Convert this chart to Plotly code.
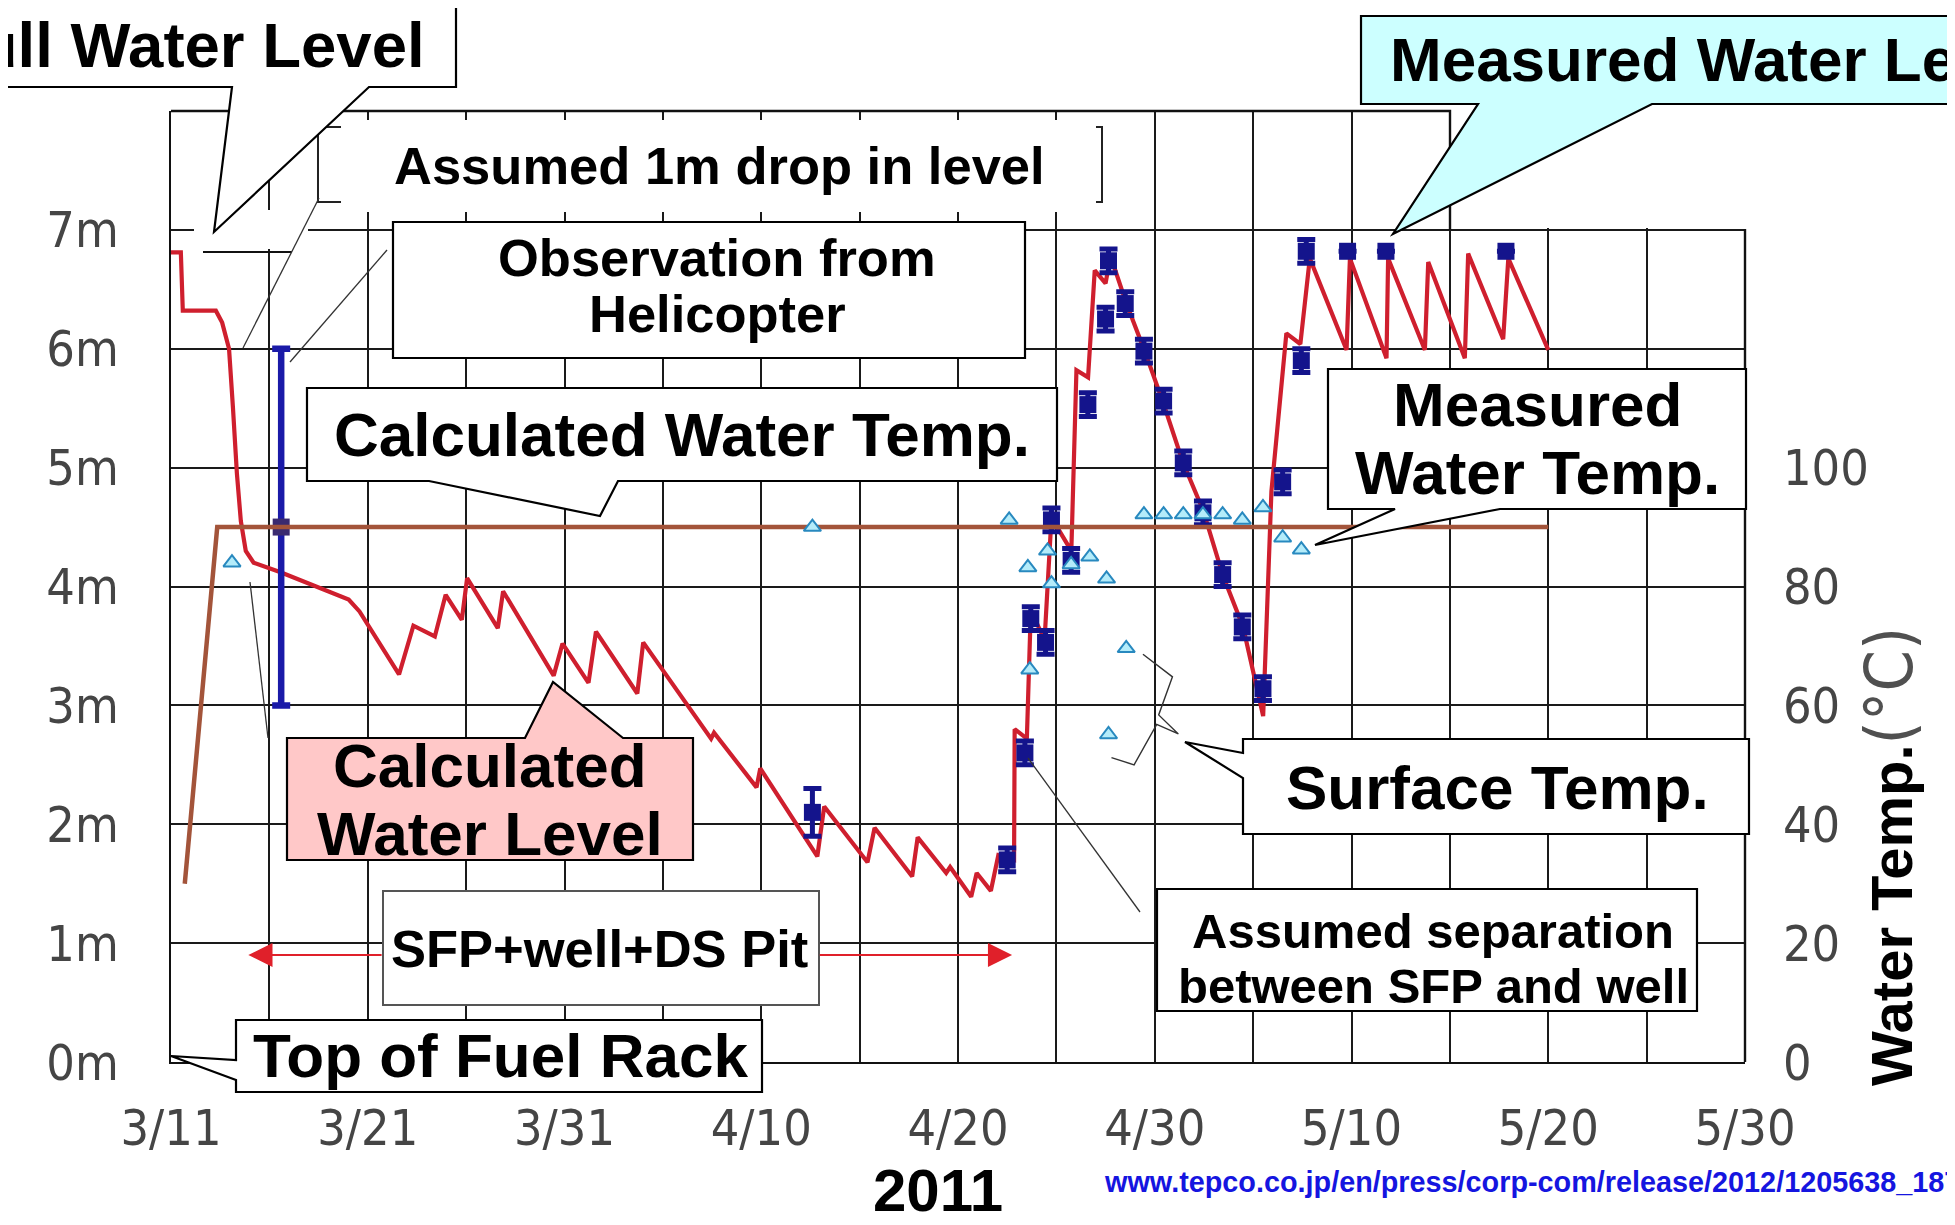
import plotly.graph_objects as go

# ------------------------------------------------------------------ data
# x values are days after 2011-03-11
tick_days = list(range(0, 81, 5))
x_tick_labels = ["3/11", "3/21", "3/31", "4/10", "4/20", "4/30", "5/10", "5/20", "5/30"]
level_tick_values = [0, 1, 2, 3, 4, 5, 6, 7]
level_tick_labels = ["0m", "1m", "2m", "3m", "4m", "5m", "6m", "7m"]
temp_tick_values = [0, 20, 40, 60, 80, 100]

calc_level_day = [0.0, 0.5, 0.6, 2.28, 2.6, 2.95, 3.15, 3.35, 3.55, 3.8, 4.2, 5.57, 9.03, 9.58,
                  11.59, 12.32, 13.41, 13.96, 14.78, 15.05, 16.61, 16.88, 19.45, 19.9, 21.22, 21.6,
                  23.7, 24.0, 27.45, 27.6, 29.76, 29.95, 32.85, 33.2, 35.4, 35.76, 37.67, 37.95,
                  39.4, 39.6, 40.67, 40.95, 41.67, 42.05, 42.85, 42.88, 43.5, 43.7, 44.4, 44.75,
                  45.76, 46.02, 46.61, 46.95, 47.5, 47.75, 48.56, 49.49, 50.42, 51.44, 52.46,
                  53.47, 54.49, 55.51, 55.93, 56.69, 57.4, 57.88, 59.75, 59.92, 61.78, 61.86,
                  63.73, 63.9, 65.76, 65.93, 67.71, 67.97, 70.0]
calc_level_m = [6.81, 6.81, 6.32, 6.32, 6.22, 6.0, 5.5, 4.95, 4.55, 4.3, 4.2, 4.12, 3.89, 3.79,
                3.26, 3.67, 3.58, 3.93, 3.72, 4.07, 3.65, 3.96, 3.25, 3.52, 3.19, 3.62,
                3.1, 3.53, 2.72, 2.77, 2.31, 2.47, 1.73, 2.15, 1.68, 1.97, 1.56, 1.89,
                1.59, 1.64, 1.39, 1.59, 1.44, 1.74, 1.7, 2.8, 2.72, 3.8, 3.55, 4.58,
                4.3, 5.82, 5.76, 6.66, 6.55, 6.78, 6.38, 5.98, 5.55, 5.04, 4.64,
                4.09, 3.66, 2.91, 4.8, 6.13, 6.04, 6.76, 5.99, 6.76, 5.92, 6.76,
                5.99, 6.73, 5.92, 6.8, 6.08, 6.76, 5.99]

calc_temp_day = [0.7, 2.35, 70.0]
calc_temp_c = [30, 90, 90]

heli_day = [5.6]
heli_m = [4.5]
heli_err = [1.5]

meas_level_day = [32.6, 42.5, 43.4, 43.7, 44.45, 44.75, 45.75, 46.6, 47.5, 47.65, 48.5, 49.45,
                  50.45, 51.45, 52.45, 53.45, 54.45, 55.5, 56.5, 57.45, 57.7, 59.8, 61.75, 67.85]
meas_level_m = [2.1, 1.7, 2.6, 3.73, 3.53, 4.56, 4.22, 5.53, 6.25, 6.74, 6.38, 5.98,
                5.56, 5.04, 4.62, 4.1, 3.66, 3.14, 4.88, 5.9, 6.82, 6.82, 6.82, 6.82]
meas_level_err = [0.2, 0.1, 0.1, 0.1, 0.1, 0.1, 0.1, 0.1, 0.1, 0.1, 0.1, 0.1,
                  0.1, 0.1, 0.1, 0.1, 0.1, 0.1, 0.1, 0.1, 0.1, 0.0, 0.0, 0.0]

meas_temp_day = [3.1, 32.6, 42.6, 43.55, 43.65, 44.55, 44.75, 45.75, 46.7, 47.55, 48.55, 47.65,
                 49.45, 50.45, 51.45, 52.45, 53.45, 54.45, 55.5, 56.5, 57.45]
meas_temp_c = [84, 90, 91.2, 83.2, 66, 86, 80.5, 83.7, 85, 81.3, 69.6, 55.1,
               92.1, 92.1, 92.1, 92.1, 92.1, 91.2, 93.3, 88.2, 86.2]

# ------------------------------------------------------------------ layout helpers
PAGE_W, PAGE_H = 1955, 1225
OFF = 8                     # default body margin of the page
W, H = PAGE_W - OFF, PAGE_H - OFF
# plot area in page pixels
L_PX, R_PX, T_PX, B_PX = 171, 1745, 111, 1062


def px(x):
    return (x - L_PX) / (R_PX - L_PX)


def py(y):
    return (B_PX - y) / (B_PX - T_PX)


def poly_path(points):
    s = "M " + " L ".join(f"{px(x):.5f},{py(y):.5f}" for x, y in points)
    return s + " Z"


def callout(x0, y0, x1, y1, side=None, b1=None, b2=None, tip=None):
    pts = [(x0, y0)]
    if side == "top":
        pts += [(b1, y0), tip, (b2, y0)]
    pts += [(x1, y0), (x1, y1)]
    if side == "bottom":
        pts += [(b2, y1), tip, (b1, y1)]
    pts += [(x0, y1)]
    if side == "left":
        pts += [(x0, b2), tip, (x0, b1)]
    return poly_path(pts)


BOLD = "Liberation Sans, Arial, sans-serif"
NARROW = "DejaVu Sans Condensed, Liberation Sans Narrow, sans-serif"

shapes = []
annotations = []


def box(path, fill="white", color="black", width=2.2):
    shapes.append(dict(type="path", path=path, xref="paper", yref="paper", layer="above",
                       fillcolor=fill, line=dict(color=color, width=width)))


def seg(pts, color="#222", width=2):
    s = "M " + " L ".join(f"{px(x):.5f},{py(y):.5f}" for x, y in pts)
    shapes.append(dict(type="path", path=s, xref="paper", yref="paper", layer="above",
                       line=dict(color=color, width=width)))


def text(t, x, y, size, xanchor="center", color="black"):
    annotations.append(dict(text=t, x=px(x), y=py(y), xref="paper", yref="paper",
                            xanchor=xanchor, yanchor="middle", showarrow=False,
                            font=dict(family=BOLD, size=size, color=color)))


# frame pieces outside standard axes
shapes.append(dict(type="rect", xref="paper", yref="paper", layer="above",
                   x0=px(1452), x1=px(1770), y0=py(90), y1=py(228),
                   fillcolor="white", line=dict(width=0)))
seg([(L_PX, T_PX), (1450, T_PX), (1450, 230)], color="#111", width=2.4)
seg([(R_PX, 229), (R_PX, B_PX)], color="#111", width=2.4)
# gap around full-water-level mark
shapes.append(dict(type="rect", xref="paper", yref="paper", layer="above",
                   x0=px(194), x1=px(308), y0=py(210), y1=py(249),
                   fillcolor="white", line=dict(width=0)))
seg([(203, 252), (292, 252)], color="#111", width=2.2)

# "Assumed 1m drop" white area and brackets
shapes.append(dict(type="rect", xref="paper", yref="paper", layer="above",
                   x0=px(341), x1=px(1100), y0=py(120), y1=py(212),
                   fillcolor="white", line=dict(width=0)))
seg([(341, 127), (318, 127), (318, 202), (341, 202)], color="#222", width=2)
seg([(1096, 127), (1102, 127), (1102, 202), (1096, 202)], color="#222", width=2)

# thin leader lines
seg([(319, 198), (243, 348)], color="#333", width=1.3)
seg([(387, 250), (290, 362)], color="#333", width=1.3)
seg([(250, 582), (268, 738)], color="#333", width=1.3)
seg([(1028, 758), (1140, 912)], color="#333", width=1.3)

# brace for the surface temperatures (data coordinates)
shapes.append(dict(type="path", xref="x", yref="y", layer="above",
                   path="M 49.4,3.43 L 50.9,3.24 L 50.2,2.92 L 51.2,2.76 L 50.1,2.84 L 48.95,2.5 L 47.8,2.56",
                   line=dict(color="#333", width=1.4)))

# callout boxes
box(callout(-20, 2.5, 456, 87, "bottom", 232, 369, (214, 232)))
box(callout(1361, 16, 1985, 104, "bottom", 1478, 1652, (1393, 234)), fill="#ccffff")
box(callout(393, 222, 1025, 358))
box(callout(307, 388, 1057, 481, "bottom", 429, 618, (600, 516)))
box(callout(287, 738, 693, 860, "top", 525, 623, (553, 682)), fill="#ffc8c8")
box(callout(1328, 369, 1746, 509, "bottom", 1395, 1500, (1315, 545)))
box(callout(1243, 739, 1749, 834, "left", 753, 778, (1185, 742)))
box(callout(236, 1020, 762, 1092, "left", 1060, 1080, (171, 1056)))
box(callout(383, 891, 819, 1005), color="#555", width=2)
box(callout(1157, 889, 1697, 1011))

# texts
text("<b>Full Water Level</b>", 427, 45, 63.5, xanchor="right")
text("<b>Measured Water Level</b>", 1388, 60, 62, xanchor="left")
text("<b>Assumed 1m drop in level</b>", 719, 166, 52.5)
text("<b>Observation from</b>", 717, 257, 52.5)
text("<b>Helicopter</b>", 717, 313, 52.5)
text("<b>Calculated Water Temp.</b>", 682, 434, 62)
text("<b>Calculated</b>", 490, 766, 62)
text("<b>Water Level</b>", 490, 833, 62)
text("<b>SFP+well+DS Pit</b>", 599, 948, 52.5)
text("<b>Top of Fuel Rack</b>", 500, 1055, 62)
text("<b>Measured</b>", 1537, 405, 62)
text("<b>Water Temp.</b>", 1537, 472, 62)
text("<b>Surface Temp.</b>", 1497, 787, 62)
text("<b>Assumed separation</b>", 1433, 931, 49)
text("<b>between SFP and well</b>", 1433, 986, 49)
text("<b>2011</b>", 938, 1190, 60)
text("<b>www.tepco.co.jp/en/press/corp-com/release/2012/1205638_1870.html</b>",
     1102, 1182, 28.8, xanchor="left", color="#1515e0")

annotations.append(dict(
    text="<b>Water Temp.</b><span style='font-family:DejaVu Sans Condensed, sans-serif;"
         "font-weight:normal;font-size:66px;color:#505050'>(°C)</span>",
    x=px(1889), y=py(856), xref="paper", yref="paper", textangle=-90, showarrow=False,
    xanchor="center", yanchor="middle", font=dict(family=BOLD, size=58, color="black")))

# SFP+well+DS Pit range arrows (data coordinates)
for head, tail in [(3.93, 10.78), (42.75, 32.9)]:
    annotations.append(dict(x=head, y=0.9, ax=tail, ay=0.9, xref="x", yref="y",
                            axref="x", ayref="y", text="", showarrow=True,
                            arrowhead=2, arrowsize=2.2, arrowwidth=2.2,
                            arrowcolor="#e0202a"))

# ------------------------------------------------------------------ traces
fig = go.Figure()

fig.add_trace(go.Scatter(x=calc_temp_day, y=calc_temp_c, yaxis="y2", mode="lines",
                         line=dict(color="#a3543a", width=4.5), name="Calculated Water Temp."))
fig.add_trace(go.Scatter(x=calc_level_day, y=calc_level_m, mode="lines",
                         line=dict(color="#cf1f2e", width=4.2), name="Calculated Water Level"))
fig.add_trace(go.Scatter(x=heli_day, y=heli_m, mode="markers",
                         marker=dict(symbol="square", size=17, color="#3a2a70"),
                         error_y=dict(type="data", array=heli_err, visible=True,
                                      color="#1a1aa8", thickness=6.5, width=9),
                         name="Observation from Helicopter"))
fig.add_trace(go.Scatter(x=meas_level_day, y=meas_level_m, mode="markers",
                         marker=dict(symbol="square", size=17, color="#14148c"),
                         error_y=dict(type="data", array=meas_level_err, visible=True,
                                      color="#14148c", thickness=5, width=9),
                         name="Measured Water Level"))
fig.add_trace(go.Scatter(x=meas_temp_day, y=meas_temp_c, yaxis="y2", mode="markers",
                         marker=dict(symbol="triangle-up", size=15, color="#b4ecfa",
                                     line=dict(color="#2889bf", width=2)),
                         name="Measured / Surface Temp."))

x_tick_text = [x_tick_labels[i // 2] if i % 2 == 0 else "" for i in range(len(tick_days))]
tick_font = dict(family=NARROW, size=50, color="#454545")

fig.update_layout(
    width=W, height=H,
    margin=dict(l=L_PX - OFF, r=W - (R_PX - OFF), t=T_PX - OFF, b=H - (B_PX - OFF),
                autoexpand=False),
    paper_bgcolor="white", plot_bgcolor="white",
    showlegend=False,
    xaxis=dict(range=[0, 80], tickvals=tick_days, ticktext=x_tick_text,
               showgrid=True, gridcolor="#1a1a1a", gridwidth=2, zeroline=False,
               showline=True, linecolor="#111", linewidth=2.4,
               ticks="outside", ticklen=21, tickcolor="rgba(0,0,0,0)", tickfont=tick_font),
    yaxis=dict(range=[0, 8], tickvals=level_tick_values, ticktext=level_tick_labels,
               showgrid=True, gridcolor="#1a1a1a", gridwidth=2, zeroline=False,
               showline=True, linecolor="#111", linewidth=2.4,
               ticks="outside", ticklen=40, tickcolor="rgba(0,0,0,0)", tickfont=tick_font),
    yaxis2=dict(range=[0, 160], overlaying="y", side="right", tickvals=temp_tick_values,
                showgrid=False, zeroline=False, showline=False,
                ticks="outside", ticklen=27, tickcolor="rgba(0,0,0,0)", tickfont=tick_font),
    shapes=shapes,
    annotations=annotations,
)

fig.write_html("out.html")
